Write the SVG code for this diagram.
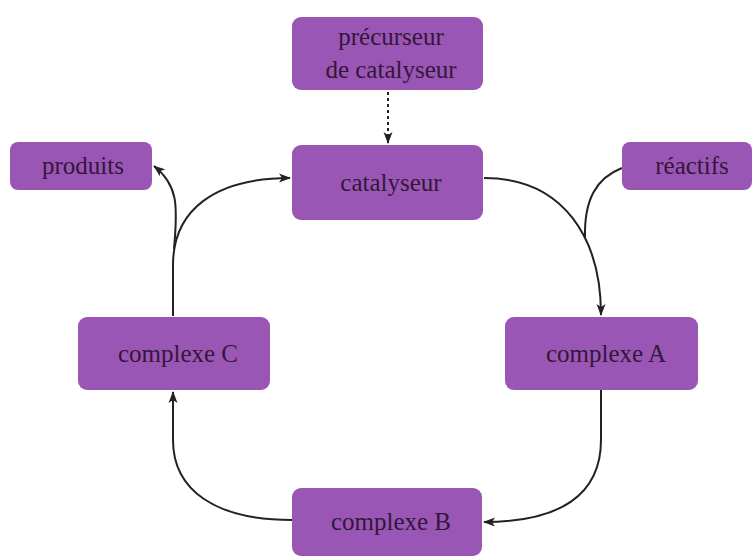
<svg xmlns="http://www.w3.org/2000/svg" width="755" height="559" viewBox="0 0 755 559">
<defs>
<style>
.box{fill:#9a56b4;}
.lbl{font-family:"Liberation Serif","DejaVu Serif",serif;font-size:25px;fill:#33173a;text-anchor:middle;}
.c{fill:none;stroke:#222;stroke-width:2;}
.d{fill:none;stroke:#222;stroke-width:2;stroke-dasharray:3 3;}
</style>
<marker id="ah" markerUnits="userSpaceOnUse" markerWidth="12" markerHeight="10" refX="11" refY="4.5" orient="auto" viewBox="0 0 12 9">
<path d="M0,0 L12,4.5 L0,9 L3,4.5 z" fill="#222"/>
</marker>
</defs>
<rect width="755" height="559" fill="#ffffff"/>
<g id="connectors">
<path class="d" d="M388,92 L388,143" marker-end="url(#ah)"/>
<path class="c" d="M484,178 C565,178 601,240 601,315" marker-end="url(#ah)"/>
<path class="c" d="M622,168 C596,178 584,200 585,238"/>
<path class="c" d="M601,390 L601,440 C601,495 560,522 484,522" marker-end="url(#ah)"/>
<path class="c" d="M292,520 C215,520 173,490 173,440 L173,392" marker-end="url(#ah)"/>
<path class="c" d="M173,316 L173,265 C173,210 215,178 290,178" marker-end="url(#ah)"/>
<path class="c" d="M174,249 C178,205 178,185 154,166" marker-end="url(#ah)"/>
</g>
<g id="precurseur">
<rect class="box" x="292" y="17" width="191" height="73" rx="9"/>
<text class="lbl" x="391" y="45">précurseur</text>
<text class="lbl" x="391" y="78">de catalyseur</text>
</g>
<g id="catalyseur">
<rect class="box" x="292" y="145" width="191" height="75" rx="9"/>
<text class="lbl" x="391" y="191">catalyseur</text>
</g>
<g id="produits">
<rect class="box" x="10" y="142" width="142" height="48" rx="8"/>
<text class="lbl" x="83" y="174">produits</text>
</g>
<g id="reactifs">
<rect class="box" x="622" y="142" width="130" height="48" rx="8"/>
<text class="lbl" x="692" y="174">réactifs</text>
</g>
<g id="complexeC">
<rect class="box" x="78" y="317" width="192" height="73" rx="9"/>
<text class="lbl" x="178" y="362">complexe C</text>
</g>
<g id="complexeA">
<rect class="box" x="505" y="317" width="193" height="73" rx="9"/>
<text class="lbl" x="606" y="362">complexe A</text>
</g>
<g id="complexeB">
<rect class="box" x="292" y="488" width="190" height="68" rx="9"/>
<text class="lbl" x="391" y="530">complexe B</text>
</g>
</svg>
